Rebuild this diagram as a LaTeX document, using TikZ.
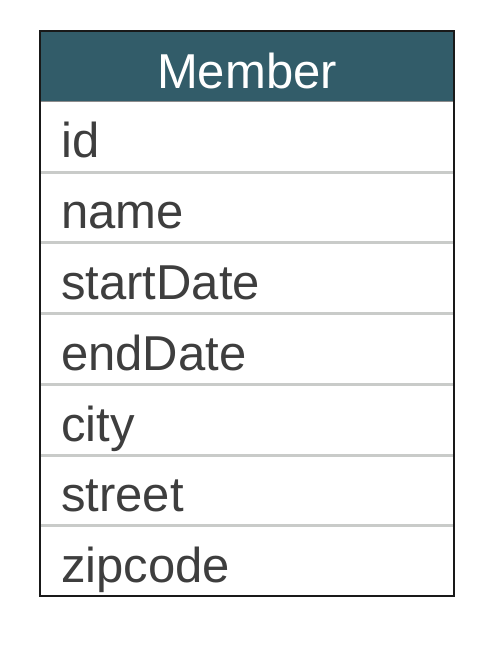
\documentclass[tikz,border=0pt]{standalone}
\usepackage{fontspec}
\setmainfont{Liberation Sans}
\usepackage{tikz}
\definecolor{headteal}{HTML}{325C69}
\definecolor{rowline}{HTML}{C9CBC9}
\definecolor{fieldtext}{HTML}{3E3E3E}
\tikzstyle{field}=[%
	anchor=base west, inner sep=0, text=fieldtext,
	font=\fontsize{49}{49}\selectfont
]
\tikzstyle{title}=[%
	anchor=base, inner sep=0, text=white,
	font=\fontsize{49}{49}\selectfont
]

\begin{document}
\begin{tikzpicture}[x=1pt, y=-1pt]
	\useasboundingbox[fill=white] (0,0) rectangle (500,654);

	% header
	\fill[headteal] (40,31) rectangle (454,101);
	\draw[line width=1pt, black!45] (40,101) -- (454,101);
	\node[title] (member) at (247,88) {Member};

	% row separators
	\draw[line width=3pt, rowline] (40,172) -- (454,172);
	\draw[line width=3pt, rowline] (40,242) -- (454,242);
	\draw[line width=3pt, rowline] (40,313) -- (454,313);
	\draw[line width=3pt, rowline] (40,384) -- (454,384);
	\draw[line width=3pt, rowline] (40,455) -- (454,455);
	\draw[line width=3pt, rowline] (40,525) -- (454,525);

	\node[field] (id)        at (61,157) {id};
	\node[field] (name)      at (61,228) {name};
	\node[field] (startDate) at (61,299) {startDate};
	\node[field] (endDate)   at (61,370) {endDate};
	\node[field] (city)      at (61,441) {city};
	\node[field] (street)    at (61,511) {street};
	\node[field] (zipcode)   at (61,582) {zipcode};

	% outer frame
	\draw[line width=1.5pt, black!90] (40,31) rectangle (454,596);
\end{tikzpicture}
\end{document}
